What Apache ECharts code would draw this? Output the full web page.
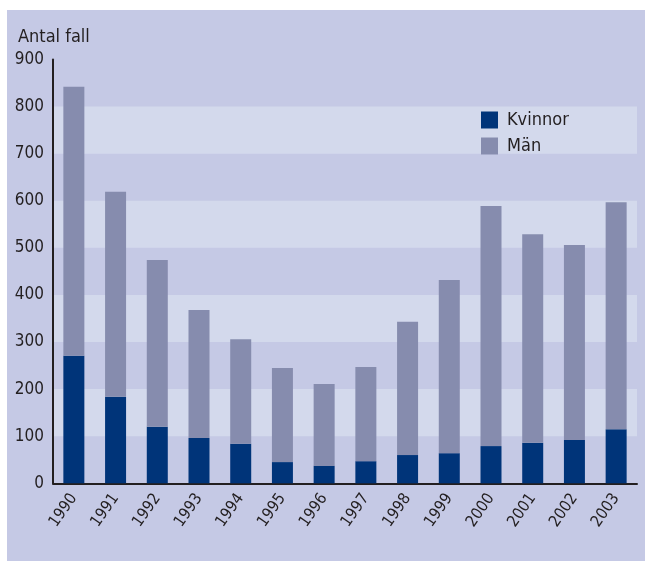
<!DOCTYPE html>
<html>
<head>
<meta charset="utf-8">
<script src="https://cdn.jsdelivr.net/npm/echarts@6/dist/echarts.min.js"></script>
<style>
html,body{margin:0;padding:0;background:#ffffff;}
#chart{position:absolute;left:7px;top:10px;width:638px;height:551px;}
</style>
</head>
<body>
<div id="chart"></div>
<script>
const years = ['1990','1991','1992','1993','1994','1995','1996','1997','1998','1999','2000','2001','2002','2003'];
const kvinnor = [271, 184, 120, 96, 84, 45, 37, 47, 60, 64, 79, 86, 92, 115];
const man = [571, 435, 354, 272, 222, 200, 174, 200, 283, 368, 510, 443, 414, 482];
const yTicks = { min: 0, max: 900, interval: 100 };
const axisTitle = 'Antal fall';

const FONT = '"DejaVu Sans Condensed", "Liberation Sans", sans-serif';
const TXT = '#231f20';

const chart = echarts.init(document.getElementById('chart'));
chart.setOption({
  backgroundColor: '#c5c9e5',
  animation: false,
  textStyle: { fontFamily: FONT, color: TXT },
  grid: { left: 46, top: 49.5, right: 8, bottom: 77.7 },
  graphic: [{
    type: 'text', left: 11, top: 18,
    style: { text: axisTitle, font: '18px ' + FONT, fill: TXT }
  }],
  legend: {
    orient: 'vertical', left: 474, top: 101, padding: 0,
    itemWidth: 17, itemHeight: 17, itemGap: 8,
    icon: 'rect',
    textStyle: { fontFamily: FONT, fontSize: 18, color: TXT, padding: [0, 0, 0, 4] },
    data: ['Kvinnor', 'Män']
  },
  xAxis: {
    type: 'category', data: years,
    axisLine: { lineStyle: { color: TXT, width: 2 } },
    axisTick: { show: false },
    axisLabel: { rotate: 55, margin: 12, fontFamily: FONT, fontSize: 16, color: TXT }
  },
  yAxis: {
    type: 'value', min: yTicks.min, max: yTicks.max, interval: yTicks.interval,
    axisLine: { show: true, lineStyle: { color: TXT, width: 2 } },
    axisTick: { show: false },
    splitLine: { show: false },
    splitArea: { show: true, areaStyle: { color: ['rgba(0,0,0,0)', '#d3d9ec'] } },
    axisLabel: { margin: 9, fontFamily: FONT, fontSize: 17, color: TXT, padding: [4, 0, 0, 0] }
  },
  series: [
    { name: 'Kvinnor', type: 'bar', stack: 'tot', barWidth: 21, data: kvinnor, itemStyle: { color: '#003479' } },
    { name: 'Män', type: 'bar', stack: 'tot', barWidth: 21, data: man, itemStyle: { color: '#868cae' } }
  ]
});
</script>
</body>
</html>
